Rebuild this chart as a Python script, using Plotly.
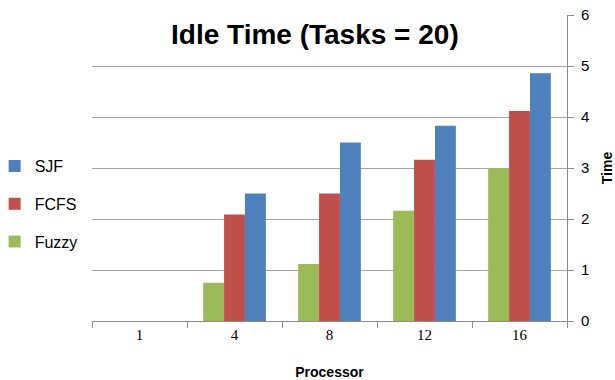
import plotly.graph_objects as go

categories = ["1", "4", "8", "12", "16"]
fuzzy = [0, 0.75, 1.12, 2.16, 3.0]
fcfs = [0, 2.09, 2.5, 3.16, 4.12]
sjf = [0, 2.5, 3.5, 3.83, 4.86]

series = [("Fuzzy", fuzzy, "#9BBB59", 3), ("FCFS", fcfs, "#C0504D", 2), ("SJF", sjf, "#4F81BD", 1)]

fig = go.Figure()
for name, vals, col, rank in series:
    fig.add_trace(go.Bar(x=categories, y=vals, name=name, legendgroup=name, legendrank=rank,
                         marker=dict(color=col, line=dict(width=0))))

fig.update_layout(
    width=615, height=380,
    margin=dict(l=92, r=48, t=15, b=59, autoexpand=False),
    paper_bgcolor="white", plot_bgcolor="white",
    barmode="group", bargap=0.34, bargroupgap=0,
    title=dict(text="<b>Idle Time (Tasks = 20)</b>", xref="container", x=0.512, xanchor="center",
               yref="container", y=0.91, yanchor="middle",
               font=dict(family="Liberation Sans, Arial", size=28, color="black")),
    legend=dict(xref="paper", x=-0.205, xanchor="left", yref="paper", y=0.562, yanchor="top",
                traceorder="grouped", tracegroupgap=14, itemwidth=30,
                font=dict(family="Liberation Sans, Arial", size=16, color="black"),
                bgcolor="rgba(0,0,0,0)"),
    showlegend=True,
    font=dict(family="Liberation Sans, Arial", color="black"),
)
fig.update_xaxes(
    type="category", showline=True, linecolor="#8C8C8C", linewidth=1,
    ticks="outside", tickson="boundaries", ticklen=6, tickcolor="#8C8C8C",
    tickfont=dict(family="Liberation Serif, Times New Roman", size=15, color="black"),
    title=dict(text="<b>Processor</b>", font=dict(family="Liberation Sans, Arial", size=14, color="black"), standoff=26),
    showgrid=False,
)
fig.update_yaxes(
    side="right", range=[0, 6], dtick=1, showline=True, linecolor="#8C8C8C", linewidth=1,
    ticks="outside", ticklen=6, tickcolor="#8C8C8C", ticklabelstandoff=4,
    showgrid=True, gridcolor="#A6A6A6", gridwidth=1, zeroline=False,
    tickfont=dict(family="Liberation Sans, Arial", size=15, color="black"),
    title=dict(text="<b>Time</b>", font=dict(family="Liberation Sans, Arial", size=14, color="black"), standoff=14),
)

fig.write_html("out.html", config={"displayModeBar": False},
               post_script="document.body.style.margin='0';document.body.style.overflow='hidden';")
